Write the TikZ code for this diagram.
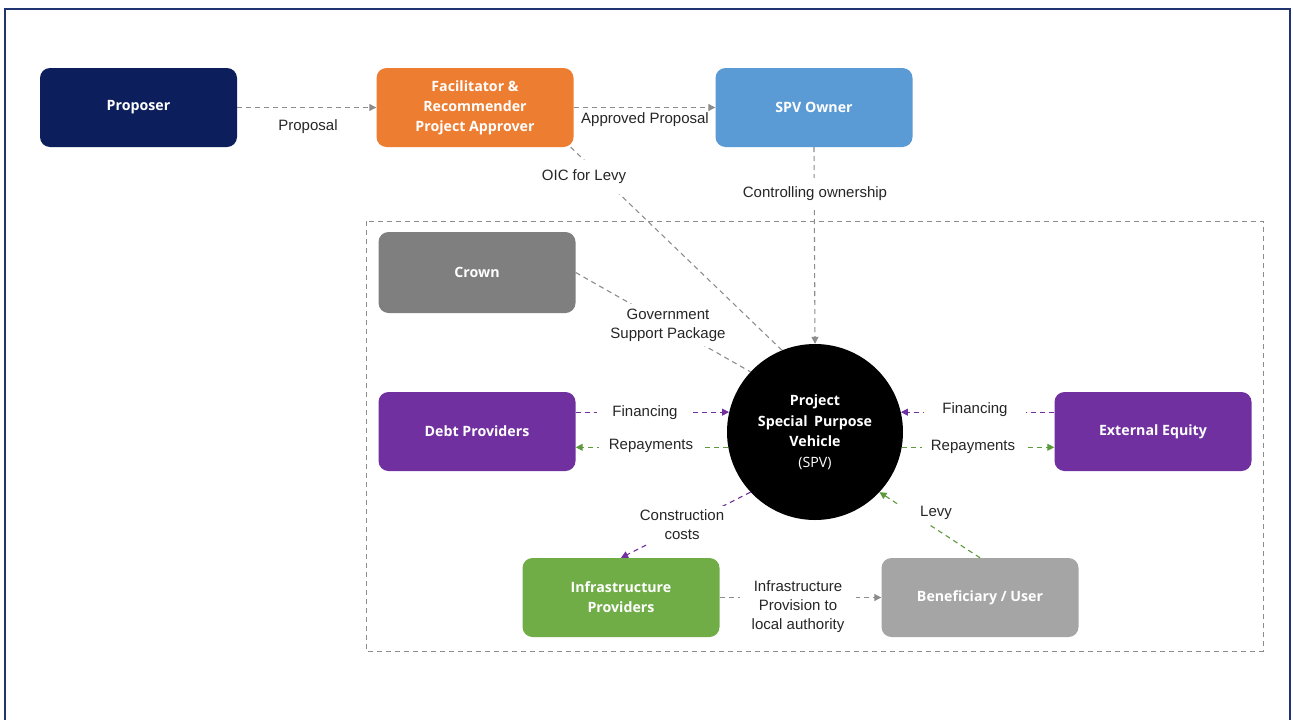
\documentclass[tikz,border=0pt]{standalone}
\usepackage{fontspec}
\setmainfont{Liberation Sans}
\newfontfamily\boxfont{Open Sans}
\usetikzlibrary{arrows.meta,calc}
\definecolor{navy}{HTML}{0C1F5C}
\definecolor{frame}{HTML}{1F3470}
\definecolor{orangeb}{HTML}{ED7D31}
\definecolor{blueb}{HTML}{5B9BD5}
\definecolor{grayb}{HTML}{7F7F7F}
\definecolor{lgrayb}{HTML}{A5A5A5}
\definecolor{purpleb}{HTML}{7030A0}
\definecolor{greenb}{HTML}{70AD47}
\definecolor{greenl}{HTML}{5E9A3C}
\definecolor{linegray}{HTML}{8C8C8C}
\definecolor{labelgray}{HTML}{262626}
\begin{document}
\begin{tikzpicture}[x=1pt,y=-1pt,
  box/.style={rounded corners=10pt, minimum width=197pt, minimum height=79pt,
    text=white, font=\boxfont\bfseries\fontsize{14.2}{20}\selectfont, align=center, inner sep=0pt},
  lbl/.style={font=\fontsize{15}{19}\selectfont, text=labelgray, inner sep=2pt, align=center},
  wlbl/.style={lbl, fill=white},
  conn/.style={draw=linegray, dash pattern=on 5pt off 4pt, line width=1.1pt},
]
\useasboundingbox (0,0) rectangle (1293,720);
\fill[white] (0,0) rectangle (1293,720);
% outer frame
\draw[frame, line width=2pt] (5,730) -- (5,9) -- (1290,9) -- (1290,730);
% inner dashed box
\draw[conn, line width=1pt] (366,221) rectangle (1263,651);

% nodes
\node[box, fill=navy] (prop) at (138.5,107.5) {Proposer};
\node[box, fill=orangeb] (fac) at (475,107.5) {Facilitator \&\\Recommender\\Project Approver};
\node[box, fill=blueb] (own) at (814,107.5) {SPV Owner};
\node[box, fill=grayb, minimum height=81pt] (crown) at (477,272.5) {Crown};
\node[box, fill=purpleb] (debt) at (477,431.5) {Debt Providers};
\node[box, fill=purpleb] (ext) at (1153,431.5) {External Equity};
\node[box, fill=greenb] (infra) at (621,597.5) {Infrastructure\\Providers};
\node[box, fill=lgrayb] (ben) at (980,597.5) {Beneficiary / User};
\node[circle, fill=black, minimum size=176pt, inner sep=0pt, text=white, align=center,
  font=\boxfont\bfseries\fontsize{14.2}{20.5}\selectfont] (spv) at (815,432)
  {Project\\Special\hspace{0.45em}Purpose\\Vehicle\\{\mdseries (SPV)}};

% top row
\draw[conn, -{Triangle[length=7pt,width=7pt,fill=linegray]}] (prop.east) -- (fac.west);
\node[lbl] (lprop) at (308,127) {Proposal};
\draw[conn, -{Triangle[length=7pt,width=7pt,fill=linegray]}] (fac.east) -- (own.west);
\node[lbl] (lapp) at (645,120) {Approved Proposal};

% controlling ownership
\draw[conn, -{Triangle[length=7pt,width=7pt,fill=linegray]}] (own.south) -- (spv.north);
\node[wlbl, inner ysep=9pt] (lown) at (815,194) {Controlling ownership};

% OIC for levy
\coordinate (facc) at ($(fac.south east)+(-3,0)$);
\draw[conn] (facc) -- (spv.112);
\node[wlbl, inner ysep=10pt] (loic) at (584,177) {OIC for Levy};

% government support
\draw[conn] (crown.east) -- (spv.137.8);
\node[wlbl, inner sep=5pt] (lgov) at (668,325) {Government\\Support Package};

% financing / repayments left
\draw[conn, draw=purpleb, -{Triangle[length=7pt,width=7pt,fill=purpleb]}] (debt.east |- spv.167.5) -- (spv.167.5);
\node[wlbl, inner xsep=15pt] (lfin1) at (645,413) {Financing};
\draw[conn, draw=greenl, -{Triangle[length=7pt,width=7pt,fill=greenl]}] (spv.190.5) -- (debt.east |- spv.190.5);
\node[wlbl, inner xsep=10pt] (lrep1) at (651,446) {Repayments};

% financing / repayments right
\draw[conn, draw=purpleb, -{Triangle[length=7pt,width=7pt,fill=purpleb]}] (ext.west |- spv.13.8) -- (spv.13.8);
\node[wlbl, inner xsep=18pt] (lfin2) at (975,410) {Financing};
\draw[conn, draw=greenl, -{Triangle[length=7pt,width=7pt,fill=greenl]}] (spv.-10.5) -- (ext.west |- spv.-10.5);
\node[wlbl, inner xsep=9pt] (lrep2) at (973,447) {Repayments};

% construction costs
\draw[conn, draw=purpleb, -{Triangle[length=7pt,width=7pt,fill=purpleb]}] (spv.223.6) -- (infra.north);
\node[wlbl, inner sep=4pt] (lcon) at (682,525) {Construction\\costs};

% levy
\draw[conn, draw=greenl, -{Triangle[length=7pt,width=7pt,fill=greenl]}] (ben.north) -- (spv.-43.6);
\node[wlbl, inner xsep=20pt, inner ysep=5pt] (llevy) at (936,513) {Levy};

% infrastructure provision
\draw[conn, -{Triangle[length=7pt,width=7pt,fill=linegray]}] (infra.east) -- (ben.west);
\node[wlbl, inner xsep=12pt] (linf) at (798,607) {Infrastructure\\Provision to\\local authority};
\end{tikzpicture}
\end{document}
